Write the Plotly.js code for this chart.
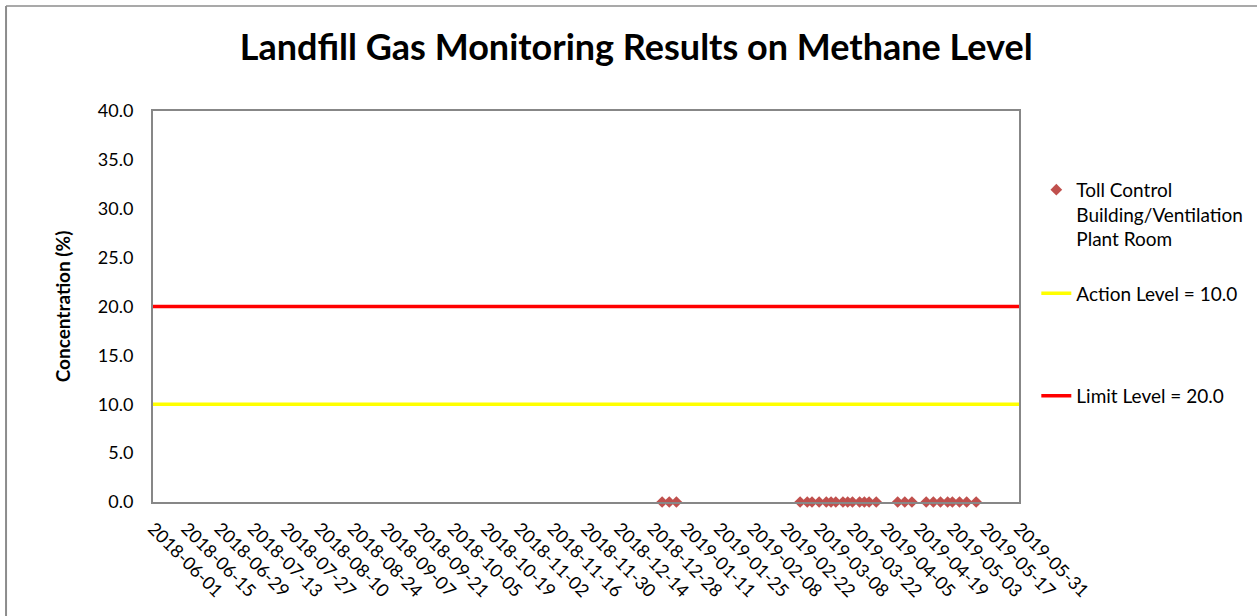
<!DOCTYPE html>
<html>
<head>
<meta charset="utf-8">
<script src="https://cdn.plot.ly/plotly-3.0.1.min.js"></script>
<style>
  html, body { margin: 0; padding: 0; background: #fff; }
  #chart { width: 1258px; height: 616px; }
</style>
</head>
<body>
<div id="chart"></div>
<script>
// ---- data ----
const sampleDates = [
  '2019-01-01','2019-01-04','2019-01-07',
  '2019-02-28','2019-03-03','2019-03-05','2019-03-08','2019-03-11','2019-03-13',
  '2019-03-15','2019-03-18','2019-03-20','2019-03-22','2019-03-25','2019-03-27',
  '2019-03-29','2019-04-01',
  '2019-04-10','2019-04-13','2019-04-16',
  '2019-04-22','2019-04-25','2019-04-28','2019-05-01','2019-05-03','2019-05-06',
  '2019-05-09','2019-05-13'
];
const methaneValues = [
  0,0,0,
  0,0,0,0,0,0,
  0,0,0,0,0,0,
  0,0,
  0,0,0,
  0,0,0,0,0,0,
  0,0
];
const levelDates = ['2018-06-01', '2019-05-31'];
const actionLevel = [10, 10];
const limitLevel = [20, 20];
const seriesNames = ['Toll Control<br>Building/Ventilation<br>Plant Room', 'Action Level = 10.0', 'Limit Level = 20.0'];
const yTickValues = [0, 5, 10, 15, 20, 25, 30, 35, 40];

const FONT = 'Lato, "Open Sans", sans-serif';

const traces = [
  {
    x: sampleDates, y: methaneValues, type: 'scatter', mode: 'markers',
    name: seriesNames[0], legend: 'legend',
    marker: { symbol: 'diamond', size: 9, color: '#C0504D' },
    cliponaxis: false
  },
  {
    x: levelDates, y: actionLevel, type: 'scatter', mode: 'lines',
    name: seriesNames[1], legend: 'legend2',
    line: { color: '#FFFF00', width: 3.5 }
  },
  {
    x: levelDates, y: limitLevel, type: 'scatter', mode: 'lines',
    name: seriesNames[2], legend: 'legend3',
    line: { color: '#FF0000', width: 3.5 }
  }
];

const legendBase = {
  xanchor: 'left', yanchor: 'top',
  font: { family: FONT, size: 19, color: '#000' },
  bgcolor: 'rgba(0,0,0,0)', borderwidth: 0
};

const layout = {
  width: 1258, height: 616,
  paper_bgcolor: '#fff', plot_bgcolor: '#fff',
  margin: { l: 153, r: 239, t: 111, b: 114, autoexpand: false },
  title: {
    text: '<b>Landfill Gas Monitoring Results on Methane Level</b>',
    font: { family: FONT, size: 36, color: '#000' },
    x: 0.558, xref: 'paper', xanchor: 'center',
    y: 0.923, yref: 'container', yanchor: 'middle'
  },
  xaxis: {
    type: 'date',
    range: ['2018-06-01', '2019-05-31'],
    tick0: '2018-06-01', dtick: 14 * 86400000,
    tickformat: '%Y-%m-%d', tickangle: 45,
    tickfont: { family: FONT, size: 18, color: '#000' },
    showgrid: false, zeroline: false,
    showline: true, linecolor: '#878787', linewidth: 2, mirror: true,
    ticks: '', ticklabelstandoff: 7
  },
  yaxis: {
    range: [0, 40], tickvals: yTickValues, tickformat: '.1f',
    tickfont: { family: FONT, size: 18, color: '#000' },
    showgrid: false, zeroline: false,
    showline: true, linecolor: '#878787', linewidth: 2, mirror: true,
    ticks: '', ticklabelstandoff: 14,
    title: {
      text: '<b>Concentration (%)</b>',
      font: { family: FONT, size: 19, color: '#000' },
      standoff: 22
    }
  },
  showlegend: true,
  legend: Object.assign({}, legendBase, { x: 1.02, y: 0.847, valign: 'top' }),
  legend2: Object.assign({}, legendBase, { x: 1.02, y: 0.582 }),
  legend3: Object.assign({}, legendBase, { x: 1.02, y: 0.32 }),
  shapes: [
    { type: 'line', xref: 'paper', yref: 'paper',
      x0: -0.1697, x1: 1.2748, y0: 1.2685, y1: 1.2685,
      line: { color: '#8c8c8c', width: 1.5 } },
    { type: 'line', xref: 'paper', yref: 'paper',
      x0: -0.1697, x1: -0.1697, y0: 1.2685, y1: -0.30,
      line: { color: '#8c8c8c', width: 2 } }
  ]
};

Plotly.newPlot('chart', traces, layout, { displayModeBar: false, staticPlot: true });
</script>
</body>
</html>
